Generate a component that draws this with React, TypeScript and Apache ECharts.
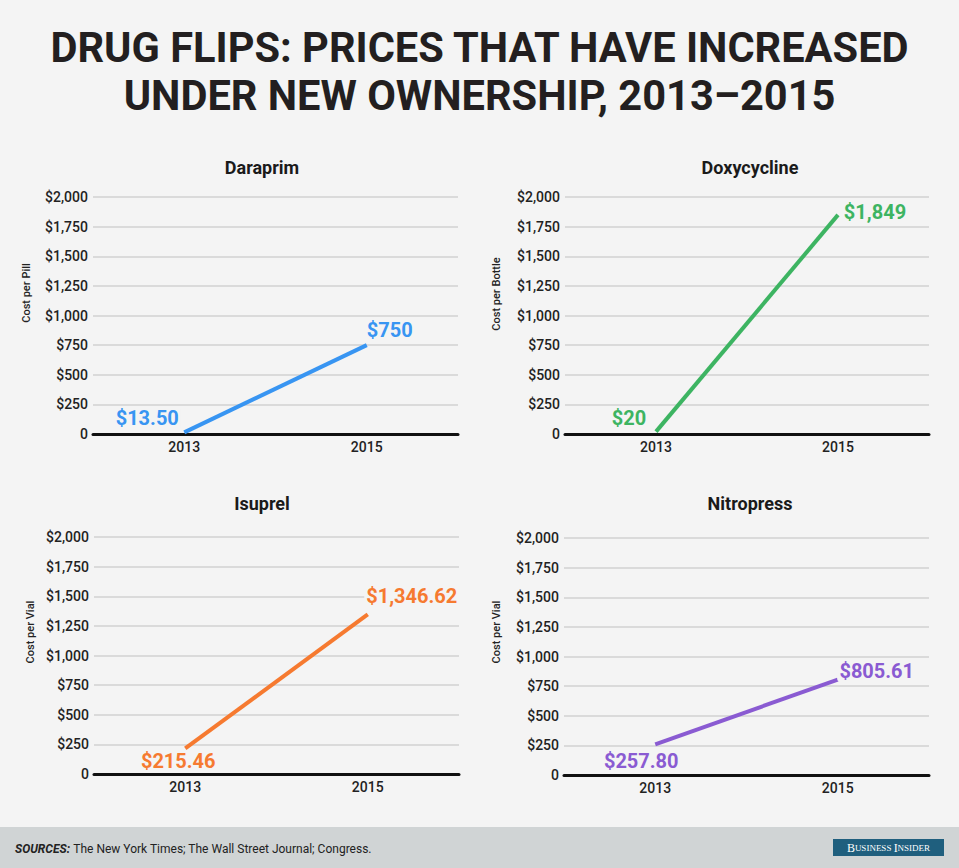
import React, { useEffect, useRef } from "react";
import * as echarts from "echarts";

const years = ["2013", "2015"];
const yTicks = [0, 250, 500, 750, 1000, 1250, 1500, 1750, 2000];

const drugNames = ["Daraprim", "Doxycycline", "Isuprel", "Nitropress"];
const unitNames = ["Cost per Pill", "Cost per Bottle", "Cost per Vial", "Cost per Vial"];
const daraprim = [13.5, 750];
const doxycycline = [20, 1849];
const isuprel = [215.46, 1346.62];
const nitropress = [257.8, 805.61];
const daraprimLabels = ["$13.50", "$750"];
const doxycyclineLabels = ["$20", "$1,849"];
const isuprelLabels = ["$215.46", "$1,346.62"];
const nitropressLabels = ["$257.80", "$805.61"];

const seriesValues = [daraprim, doxycycline, isuprel, nitropress];
const seriesLabels = [daraprimLabels, doxycyclineLabels, isuprelLabels, nitropressLabels];
const colors = ["#3895f2", "#3db462", "#f67a30", "#8a5bd2"];

// layout (not data)
const grids = [
  { left: 93, top: 197, width: 365, height: 237 },
  { left: 565, top: 197, width: 364, height: 237 },
  { left: 94, top: 537, width: 365, height: 237 },
  { left: 564, top: 538, width: 365, height: 237 },
];
const titlePos = [
  [262, 167],
  [750, 167],
  [262, 503],
  [750, 503],
];
const unitPos = [
  [26, 293],
  [496, 294],
  [30, 632],
  [496, 632],
];
const labelOffsets = [
  [[-37, -14], [23, -15]],
  [[-27, -14], [37, -3]],
  [[-7, 13], [44, -18]],
  [[-14, 17], [39, -9]],
];

const FONT = "Roboto";

export default function App() {
  const ref = useRef<HTMLDivElement>(null);
  useEffect(() => {
    if (!ref.current) return;
    const chart = echarts.init(ref.current, undefined, { renderer: "svg" });
    const fmtY = (v: number) => (v === 0 ? "0" : "$" + v.toLocaleString("en-US"));

    const graphic: any[] = [
      { type: "rect", shape: { x: 0, y: 0, width: 959, height: 868 }, style: { fill: "#f4f4f4" }, z: -10 },
      { type: "rect", shape: { x: 0, y: 827, width: 959, height: 41 }, style: { fill: "#d0d4d5" }, z: -9 },
      {
        type: "text",
        x: 479.5,
        y: 71,
        scaleX: 0.99,
        style: {
          text: "DRUG FLIPS: PRICES THAT HAVE INCREASED\nUNDER NEW OWNERSHIP, 2013\u20132015",
          fontFamily: FONT,
          fontWeight: "bold",
          fontSize: 42,
          lineHeight: 48,
          fill: "#231f20",
          align: "center",
          verticalAlign: "middle",
        },
      },
      {
        type: "text",
        x: 15,
        y: 849,
        style: {
          text: "{b|SOURCES:} {n|The New York Times; The Wall Street Journal; Congress.}",
          rich: {
            b: { fontFamily: FONT, fontWeight: "bold", fontStyle: "italic", fontSize: 12, fill: "#222" },
            n: { fontFamily: FONT, fontSize: 12, fill: "#222" },
          },
          verticalAlign: "middle",
        },
      },
      { type: "rect", shape: { x: 833, y: 839, width: 111, height: 17 }, style: { fill: "#1f5f7e" } },
      {
        type: "text",
        x: 888.5,
        y: 848,
        style: {
          text: "{c|B}{s|USINESS }{c|I}{s|NSIDER}",
          rich: {
            c: { fontFamily: "Liberation Serif", fontSize: 12, fill: "#ffffff" },
            s: { fontFamily: "Liberation Serif", fontSize: 9, fill: "#ffffff" },
          },
          align: "center",
          verticalAlign: "middle",
        },
      },
    ];

    drugNames.forEach((name, i) => {
      graphic.push({
        type: "text",
        x: titlePos[i][0],
        y: titlePos[i][1],
        style: {
          text: name,
          fontFamily: FONT,
          fontWeight: "bold",
          fontSize: 18,
          fill: "#1a1a1a",
          align: "center",
          verticalAlign: "middle",
        },
      });
      graphic.push({
        type: "text",
        x: unitPos[i][0],
        y: unitPos[i][1],
        rotation: Math.PI / 2,
        style: {
          text: unitNames[i],
          fontFamily: FONT,
          fontWeight: 500,
          fontSize: 11,
          fill: "#222",
          align: "center",
          verticalAlign: "middle",
        },
      });
    });

    const option: any = {
      animation: false,
      backgroundColor: "#f4f4f4",
      grid: grids.map((g) => ({ ...g, containLabel: false })),
      xAxis: grids.map((_, i) => ({
        type: "category",
        gridIndex: i,
        data: years,
        boundaryGap: true,
        axisLine: { show: true, lineStyle: { color: "#111", width: 3 } },
        axisTick: { show: false },
        axisLabel: { margin: 6, fontFamily: FONT, fontWeight: 500, fontSize: 14, color: "#222" },
        splitLine: { show: false },
        z: 1,
      })),
      yAxis: grids.map((_, i) => ({
        type: "value",
        gridIndex: i,
        min: yTicks[0],
        max: yTicks[yTicks.length - 1],
        interval: yTicks[1] - yTicks[0],
        axisLine: { show: false },
        axisTick: { show: false },
        axisLabel: { margin: 5, fontFamily: FONT, fontWeight: 500, fontSize: 14, color: "#222", formatter: fmtY },
        splitLine: { show: true, lineStyle: { color: "#dadada", width: 2 } },
      })),
      series: seriesValues.map((vals, i) => ({
        type: "line",
        xAxisIndex: i,
        yAxisIndex: i,
        z: 3,
        symbol: "circle",
        symbolSize: 2,
        showSymbol: true,
        itemStyle: { color: "rgba(0,0,0,0)", borderWidth: 0 },
        lineStyle: { color: colors[i], width: 4, cap: "butt" },
        data: vals.map((v, j) => ({
          value: v,
          label: {
            show: true,
            position: "inside",
            offset: labelOffsets[i][j],
            formatter: seriesLabels[i][j],
            fontFamily: FONT,
            fontWeight: "bold",
            fontSize: 20,
            color: colors[i],
            backgroundColor: "#f4f4f4",
            padding: [0, 2],
          },
        })),
      })),
      graphic,
    };
    chart.setOption(option);
    return () => chart.dispose();
  }, []);
  return (
    <div
      ref={ref}
      style={{ position: "fixed", left: 0, top: 0, width: 959, height: 868 }}
    />
  );
}
